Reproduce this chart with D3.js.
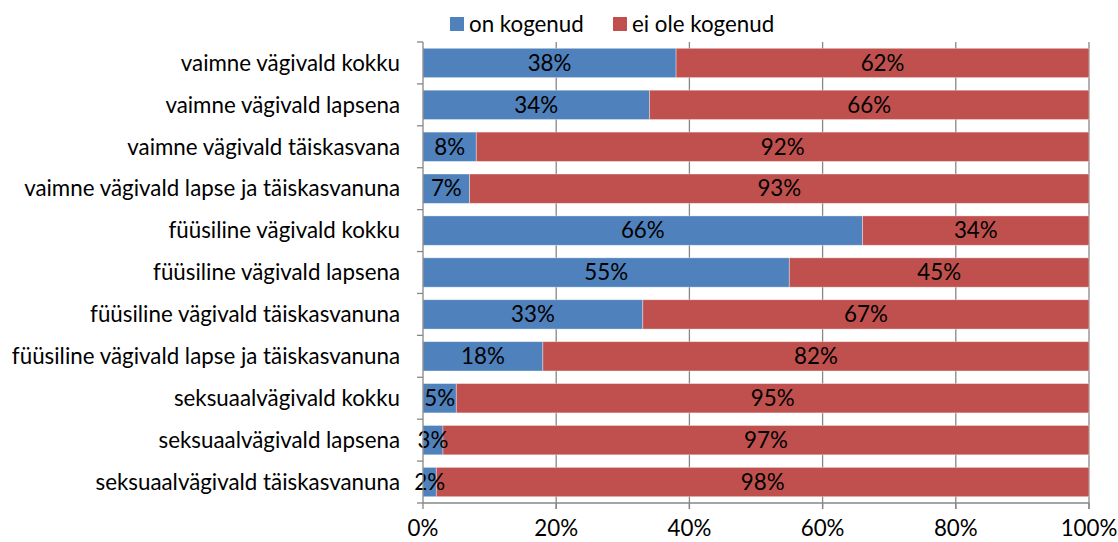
<!DOCTYPE html>
<html><head><meta charset="utf-8">
<script src="https://cdn.jsdelivr.net/npm/d3@7"></script>
<style>body{margin:0;background:#fff}svg{display:block}</style>
</head><body>
<svg id="c" width="1118" height="542"></svg>
<script>
const categories = [
  "vaimne vägivald kokku",
  "vaimne vägivald lapsena",
  "vaimne vägivald täiskasvana",
  "vaimne vägivald lapse ja täiskasvanuna",
  "füüsiline vägivald kokku",
  "füüsiline vägivald lapsena",
  "füüsiline vägivald täiskasvanuna",
  "füüsiline vägivald lapse ja täiskasvanuna",
  "seksuaalvägivald kokku",
  "seksuaalvägivald lapsena",
  "seksuaalvägivald täiskasvanuna"
];
const seriesNames = ["on kogenud", "ei ole kogenud"];
const onKogenud = [38, 34, 8, 7, 66, 55, 33, 18, 5, 3, 2];
const eiOleKogenud = [62, 66, 92, 93, 34, 45, 67, 82, 95, 97, 98];
const xTicks = [0, 20, 40, 60, 80, 100];
const colors = ["#4F81BD", "#C0504D"];

const svg = d3.select("#c");
const FONT = "Lato, 'Open Sans', sans-serif";
// measure font size to match reference label width
const probe = svg.append("text").attr("font-family", FONT).attr("font-size", 20).text(categories[3]);
const w = probe.node().getComputedTextLength();
probe.remove();
const fs = 20 * 376 / w;

const m = {left: 423, right: 1089, top: 42, bottom: 503};
const x = d3.scaleLinear().domain([0, 100]).range([m.left, m.right]);
const y = d3.scaleBand().domain(categories).range([m.top, m.bottom]).paddingInner(0.3).paddingOuter(0.15);
const grey = "#878787";

// gridlines
svg.append("g").selectAll("line").data(xTicks.slice(1)).join("line")
  .attr("x1", d => x(d)).attr("x2", d => x(d))
  .attr("y1", m.top).attr("y2", m.bottom + 6)
  .attr("stroke", grey).attr("stroke-width", 1.3);

const rows = categories.map((c, i) => ({c, v: [onKogenud[i], eiOleKogenud[i]]}));
const segs = [];
rows.forEach(r => { let acc = 0; r.v.forEach((v, k) => { segs.push({c: r.c, k, x0: acc, x1: acc + v, v}); acc += v; }); });

svg.append("g").selectAll("rect").data(segs).join("rect")
  .attr("x", d => x(d.x0)).attr("width", d => x(d.x1) - x(d.x0))
  .attr("y", d => y(d.c)).attr("height", y.bandwidth())
  .attr("fill", d => colors[d.k])
  .attr("stroke", "rgba(255,255,255,0.45)").attr("stroke-width", 0.8);

svg.append("g").selectAll("text").data(segs).join("text")
  .attr("x", d => (x(d.x0) + x(d.x1)) / 2)
  .attr("y", d => y(d.c) + y.bandwidth() / 2)
  .attr("dy", "0.35em").attr("text-anchor", "middle")
  .attr("font-family", FONT).attr("font-size", fs).attr("fill", "#000")
  .text(d => d.v + "%");

// y axis
svg.append("line").attr("x1", m.left).attr("x2", m.left).attr("y1", m.top).attr("y2", m.bottom)
  .attr("stroke", grey).attr("stroke-width", 1.3);
const bounds = d3.range(categories.length + 1).map(i => m.top + i * (m.bottom - m.top) / categories.length);
svg.append("g").selectAll("line").data(bounds).join("line")
  .attr("x1", m.left - 6).attr("x2", m.left).attr("y1", d => d).attr("y2", d => d)
  .attr("stroke", grey).attr("stroke-width", 1.3);
svg.append("g").selectAll("text").data(categories).join("text")
  .attr("x", 400).attr("y", d => y(d) + y.bandwidth() / 2).attr("dy", "0.35em")
  .attr("text-anchor", "end").attr("font-family", FONT).attr("font-size", fs).attr("fill", "#000")
  .text(d => d);

// x axis
svg.append("line").attr("x1", m.left).attr("x2", m.right).attr("y1", m.bottom).attr("y2", m.bottom)
  .attr("stroke", grey).attr("stroke-width", 1.3);
svg.append("g").selectAll("line").data(xTicks).join("line")
  .attr("x1", d => x(d)).attr("x2", d => x(d)).attr("y1", m.bottom).attr("y2", m.bottom + 6)
  .attr("stroke", grey).attr("stroke-width", 1.3);
svg.append("g").selectAll("text").data(xTicks).join("text")
  .attr("x", d => x(d)).attr("y", 536).attr("text-anchor", "middle")
  .attr("font-family", FONT).attr("font-size", fs).attr("fill", "#000")
  .text(d => d + "%");

// legend
const lg = svg.append("g");
const lx = [450, 613];
seriesNames.forEach((n, i) => {
  lg.append("rect").attr("x", lx[i]).attr("y", 17).attr("width", 14).attr("height", 14).attr("fill", colors[i]);
  lg.append("text").attr("x", lx[i] + 19).attr("y", 24).attr("dy", "0.35em")
    .attr("font-family", FONT).attr("font-size", fs).attr("fill", "#000").text(n);
});
</script>
</body></html>
